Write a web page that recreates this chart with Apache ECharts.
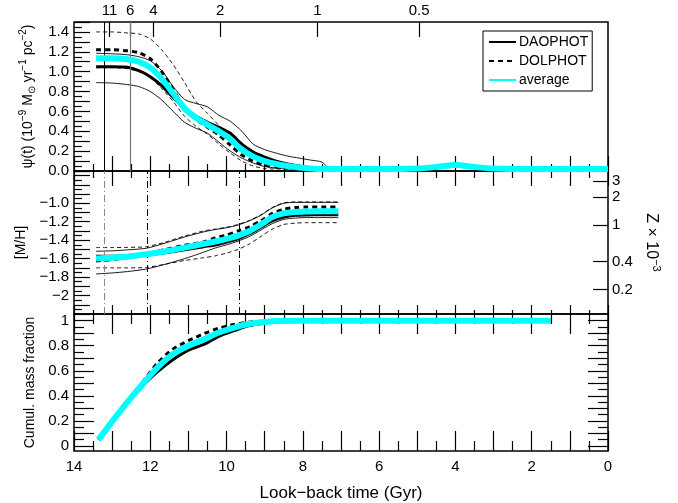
<!DOCTYPE html>
<html><head><meta charset="utf-8">
<script src="https://cdn.jsdelivr.net/npm/echarts@6/dist/echarts.min.js"></script>
<style>html,body{margin:0;padding:0;background:#fff}#c{width:678px;height:503px}</style>
</head><body><div id="c"></div>
<script>
// ---------------- data ----------------
// top panel: star formation rate psi(t)
const sfrTime   = [13.42,13.0,12.6,12.3,12.0,11.7,11.4,11.1,10.8,10.5,10.2,9.9,9.6,9.3,9.0,8.7,8.4,8.1,7.8,7.5,7.3,7.0,6.0,5.0,4.5,4.0,3.5,3.0,2.0,1.0,0.0];
const sfrDao    = [1.05,1.05,1.045,1.01,0.95,0.86,0.74,0.63,0.55,0.49,0.44,0.38,0.27,0.19,0.14,0.10,0.07,0.05,0.03,0.02,0.02,0.02,0.02,0.025,0.04,0.06,0.04,0.025,0.02,0.02,0.02];
const sfrDol    = [1.22,1.22,1.21,1.19,1.13,1.0,0.82,0.63,0.52,0.44,0.36,0.26,0.16,0.10,0.06,0.04,0.03,0.02,0.02,0.02,0.02,0.02,0.02,0.025,0.04,0.06,0.04,0.025,0.02,0.02,0.02];
const sfrAvg    = [1.135,1.135,1.125,1.10,1.04,0.93,0.78,0.63,0.535,0.465,0.40,0.32,0.215,0.145,0.10,0.07,0.05,0.035,0.025,0.02,0.02,0.02,0.02,0.025,0.04,0.06,0.04,0.025,0.02,0.02,0.02];
const sfrDaoHi  = [1.185,1.18,1.17,1.15,1.11,1.01,0.85,0.72,0.68,0.645,0.56,0.50,0.40,0.27,0.215,0.18,0.15,0.13,0.11,0.09,0.025,0.02,0.02,0.025,0.04,0.06,0.04,0.025,0.02,0.02,0.02];
const sfrDaoLo  = [0.89,0.885,0.87,0.85,0.80,0.715,0.60,0.49,0.43,0.38,0.29,0.20,0.13,0.08,0.045,0.03,0.02,0.02,0.02,0.02,0.02,0.02,0.02,0.025,0.04,0.06,0.04,0.025,0.02,0.02,0.02];
const sfrDolHi  = [1.40,1.40,1.39,1.38,1.33,1.22,1.07,0.89,0.70,0.58,0.46,0.36,0.26,0.17,0.10,0.05,0.03,0.02,0.02,0.02,0.02,0.02,0.02,0.025,0.04,0.06,0.04,0.025,0.02,0.02,0.02];
const sfrDolLo  = [1.04,1.04,1.03,1.0,0.94,0.83,0.70,0.55,0.45,0.37,0.27,0.18,0.10,0.05,0.025,0.02,0.02,0.02,0.02,0.02,0.02,0.02,0.02,0.025,0.04,0.06,0.04,0.025,0.02,0.02,0.02];

// middle panel: [M/H]
const mhTime   = [13.42,13.0,12.6,12.1,11.6,11.1,10.6,10.3,10.0,9.7,9.4,9.1,8.8,8.5,8.2,7.9,7.5,7.07];
const mhDao    = [-1.575,-1.575,-1.572,-1.56,-1.535,-1.505,-1.47,-1.453,-1.42,-1.385,-1.33,-1.26,-1.19,-1.15,-1.13,-1.126,-1.125,-1.125];
const mhDol    = [-1.625,-1.61,-1.59,-1.545,-1.50,-1.455,-1.42,-1.375,-1.345,-1.30,-1.255,-1.19,-1.11,-1.065,-1.045,-1.04,-1.04,-1.04];
const mhAvg    = [-1.598,-1.59,-1.58,-1.553,-1.52,-1.48,-1.44,-1.414,-1.385,-1.35,-1.30,-1.23,-1.15,-1.11,-1.095,-1.088,-1.085,-1.085];
const mhDaoHi  = [-1.52,-1.515,-1.505,-1.487,-1.43,-1.365,-1.31,-1.285,-1.265,-1.235,-1.19,-1.13,-1.05,-1.0,-0.99,-0.99,-0.99,-0.99];
const mhDaoLo  = [-1.766,-1.755,-1.74,-1.712,-1.66,-1.60,-1.53,-1.485,-1.45,-1.41,-1.36,-1.29,-1.22,-1.175,-1.16,-1.155,-1.155,-1.155];
const mhDolHi  = [-1.48,-1.48,-1.478,-1.47,-1.42,-1.355,-1.30,-1.28,-1.26,-1.23,-1.185,-1.125,-1.045,-0.995,-0.985,-0.985,-0.985,-0.985];
const mhDolLo  = [-1.70,-1.70,-1.70,-1.695,-1.66,-1.62,-1.59,-1.57,-1.54,-1.50,-1.44,-1.36,-1.28,-1.23,-1.215,-1.21,-1.21,-1.21];

// bottom panel: cumulative mass fraction
const cumTime = [13.36,13.0,12.6,12.2,11.8,11.4,11.0,10.6,10.2,9.8,9.4,9.0,8.6,8.0,7.0,5.0,3.0,1.5];
const cumDao  = [0.05,0.195,0.35,0.48,0.595,0.69,0.765,0.81,0.875,0.92,0.96,0.982,0.993,1.0,1.0,1.0,1.0,1.0];
const cumDol  = [0.05,0.195,0.35,0.51,0.665,0.775,0.84,0.895,0.94,0.97,0.988,0.996,1.0,1.0,1.0,1.0,1.0,1.0];
const cumAvg  = [0.05,0.195,0.35,0.495,0.63,0.735,0.80,0.85,0.905,0.945,0.975,0.99,0.997,1.0,1.0,1.0,1.0,1.0];

// vertical reference lines (look-back time, Gyr)
const sfrMarkTimes = [13.2, 12.53];
const mhMarkTimes  = [13.21, 12.08, 9.67];

// tick labels
const xTickLabels   = [0,2,4,6,8,10,12,14];
const zTickTimes    = [13.07,12.53,11.92,10.17,7.62,4.95];
const zTickLabels   = ['11','6','4','2','1','0.5'];
const sfrTickLabels = [0,0.2,0.4,0.6,0.8,1.0,1.2,1.4];
const mhTickVals    = [-1.0,-1.2,-1.4,-1.6,-1.8,-2.0];
const mhTickText    = ['−1.0','−1.2','−1.4','−1.6','−1.8','−2'];
const zMetVals      = [3,2,1,0.4,0.2];
const zMetText      = ['3','2','1','0.4','0.2'];
const cumTickLabels = [0,0.2,0.4,0.6,0.8,1];
const cumTickText   = ['0','0.2','0.4','0.6','0.8','1'];

// ---------------- chart ----------------
const FONT = '"Liberation Sans", Arial, Helvetica, sans-serif';
const ZSUN = 0.0172;
const zMetPos = zMetVals.map(z => Math.log10(z * 1e-3 / ZSUN));

const chart = echarts.init(document.getElementById('c'), null, {renderer: 'canvas'});

const G = [
  {left: 74, top: 22, width: 534, height: 149},
  {left: 74, top: 171, width: 534, height: 143},
  {left: 74, top: 314, width: 534, height: 143}
];
const tickStyle = {color: '#000', width: 1.2};
const labelStyle = {color: '#000', fontFamily: FONT, fontSize: 15};
const noLine = {show: false, onZero: false};

function xAx(gi, pos, len, minLen, extra) {
  return Object.assign({
    type: 'value', gridIndex: gi, position: pos, min: 0, max: 14, interval: 1, inverse: true,
    axisLine: noLine, splitLine: {show: false},
    axisTick: {show: true, inside: true, length: len, lineStyle: tickStyle},
    minorTick: {show: true, splitNumber: 2, length: minLen, lineStyle: tickStyle},
    axisLabel: {show: false}
  }, extra || {});
}
function valsFmt(vals, texts) {
  return function (v) {
    let best = -1, bd = 1e9;
    vals.forEach((x, i) => { const d = Math.abs(x - v); if (d < bd) { bd = d; best = i; } });
    return bd < 1e-6 ? texts[best] : '';
  };
}

const xAxes = [
  xAx(0, 'bottom', 15, 7),
  {
    type: 'value', gridIndex: 0, position: 'top', min: 0, max: 14, inverse: true,
    axisLine: noLine, splitLine: {show: false},
    axisTick: {show: true, inside: true, length: 15, customValues: zTickTimes, lineStyle: tickStyle},
    axisLabel: Object.assign({show: true, margin: 4, customValues: zTickTimes,
      formatter: valsFmt(zTickTimes, zTickLabels)}, labelStyle)
  },
  xAx(1, 'bottom', 9, 4),
  xAx(1, 'top', 15, 7),
  xAx(2, 'bottom', 20, 10, {
    axisLabel: Object.assign({show: true, margin: 8, customValues: xTickLabels,
      formatter: v => String(v)}, labelStyle),
    name: 'Look−back time (Gyr)', nameLocation: 'middle', nameGap: 34,
    nameTextStyle: {color: '#000', fontFamily: FONT, fontSize: 17}
  }),
  xAx(2, 'top', 20, 10)
];

const yAxes = [
  // 0: top panel left
  {
    type: 'value', gridIndex: 0, position: 'left', min: 0, max: 1.5, interval: 0.1,
    axisLine: noLine, splitLine: {show: false},
    axisTick: {show: true, inside: true, length: 16, lineStyle: tickStyle},
    minorTick: {show: true, splitNumber: 2, length: 8, lineStyle: tickStyle},
    axisLabel: Object.assign({show: true, margin: 5, customValues: sfrTickLabels,
      formatter: v => v.toFixed(1)}, labelStyle),
    name: '{a|ψ(t) (10}{sup|−9}{a| M}{sub|⊙}{a| yr}{sup|−1}{a| pc}{sup|−2}{a|)}',
    nameLocation: 'middle', nameRotate: 90, nameGap: 31,
    nameTextStyle: {rich: {
      a: {fontFamily: FONT, fontSize: 14, color: '#000', lineHeight: 19},
      sup: {fontFamily: FONT, fontSize: 10, color: '#000', verticalAlign: 'top', lineHeight: 19},
      sub: {fontFamily: FONT, fontSize: 10, color: '#000', verticalAlign: 'bottom', lineHeight: 19}
    }}
  },
  // 1: middle panel left
  {
    type: 'value', gridIndex: 1, position: 'left', min: -2.2, max: -0.65, interval: 0.1,
    axisLine: noLine, splitLine: {show: false},
    axisTick: {show: true, inside: true, length: 16, lineStyle: tickStyle},
    minorTick: {show: true, splitNumber: 2, length: 8, lineStyle: tickStyle},
    axisLabel: Object.assign({show: true, margin: 5, customValues: mhTickVals,
      formatter: valsFmt(mhTickVals, mhTickText)}, labelStyle),
    name: '[M/H]', nameLocation: 'middle', nameRotate: 90, nameGap: 39,
    nameTextStyle: {color: '#000', fontFamily: FONT, fontSize: 14}
  },
  // 2: middle panel right (Z)
  {
    type: 'value', gridIndex: 1, position: 'right', min: -2.2, max: -0.65,
    axisLine: noLine, splitLine: {show: false},
    axisTick: {show: true, inside: true, length: 15, customValues: zMetPos, lineStyle: tickStyle},
    axisLabel: Object.assign({show: true, margin: 4, customValues: zMetPos,
      formatter: valsFmt(zMetPos, zMetText)}, labelStyle),
    name: '{a|Z × 10}{sup|−3}', nameLocation: 'middle', nameRotate: -90, nameGap: 27,
    nameTextStyle: {rich: {
      a: {fontFamily: FONT, fontSize: 16, color: '#000', lineHeight: 20},
      sup: {fontFamily: FONT, fontSize: 11, color: '#000', verticalAlign: 'top', lineHeight: 20}
    }}
  }
];
// bottom panel axes: custom tick positions (range starts slightly below 0)
const cumMajor = [], cumMinor = [];
for (let i = 0; i <= 10; i++) cumMajor.push(+(i * 0.1).toFixed(2));
for (let i = 0; i < 10; i++) cumMinor.push(+(i * 0.1 + 0.05).toFixed(2));
function cumAx(pos, vals, len, withLabel) {
  const ax = {
    type: 'value', gridIndex: 2, position: pos, min: -0.04, max: 1.053,
    axisLine: noLine, splitLine: {show: false},
    axisTick: {show: true, inside: true, length: len, customValues: vals, lineStyle: tickStyle},
    axisLabel: {show: false}
  };
  if (withLabel) {
    ax.axisLabel = Object.assign({show: true, margin: 5, customValues: cumTickLabels,
      formatter: valsFmt(cumTickLabels, cumTickText)}, labelStyle);
    ax.name = 'Cumul. mass fraction';
    ax.nameLocation = 'middle'; ax.nameRotate = 90; ax.nameGap = 32;
    ax.nameTextStyle = {color: '#000', fontFamily: FONT, fontSize: 14};
  }
  return ax;
}
yAxes.push(cumAx('left', cumMajor, 20, true));   // 3
yAxes.push(cumAx('left', cumMinor, 10, false));  // 4
yAxes.push(cumAx('right', cumMajor, 20, false)); // 5
yAxes.push(cumAx('right', cumMinor, 10, false)); // 6

const CYAN = '#00FFFF';
const S = {
  thin:     {color: '#000', width: 0.9, type: 'solid'},
  thinDash: {color: '#000', width: 0.9, type: [4, 3]},
  dao:      {color: '#000', width: 3, type: 'solid'},
  dol:      {color: '#000', width: 3, type: [5, 4]},
  avg:      {color: CYAN, width: 6, type: 'solid', cap: 'butt'}
};
function line(name, xi, yi, times, vals, style, z) {
  return {
    type: 'line', name: name, xAxisIndex: xi, yAxisIndex: yi,
    data: times.map((t, i) => [t, vals[i]]),
    symbol: 'none', showSymbol: false, smooth: 0.25,
    lineStyle: Object.assign({join: 'round'}, style), itemStyle: {color: style.color}, z: z,
    emphasis: {disabled: true}, silent: true, animation: false
  };
}
function vMarks(times, colors) {
  return {
    silent: true, symbol: 'none', label: {show: false}, animation: false,
    data: times.map((t, i) => ({xAxis: t, lineStyle: colors[i]}))
  };
}

const series = [];
// top panel
const s0 = line('DAOPHOT range', 0, 0, sfrTime, sfrDaoHi, S.thin, 2);
s0.markLine = vMarks(sfrMarkTimes, [
  {color: '#000', width: 1, type: 'solid'},
  {color: '#777', width: 1.2, type: 'solid'}
]);
series.push(s0);
series.push(line('DAOPHOT range', 0, 0, sfrTime, sfrDaoLo, S.thin, 2));
series.push(line('DOLPHOT range', 0, 0, sfrTime, sfrDolHi, S.thinDash, 2));
series.push(line('DOLPHOT range', 0, 0, sfrTime, sfrDolLo, S.thinDash, 2));
series.push(line('DAOPHOT', 0, 0, sfrTime, sfrDao, S.dao, 3));
series.push(line('DOLPHOT', 0, 0, sfrTime, sfrDol, S.dol, 4));
series.push(line('average', 0, 0, sfrTime, sfrAvg, S.avg, 5));
// middle panel
const s1 = line('DAOPHOT range', 2, 1, mhTime, mhDaoHi, S.thin, 2);
s1.markLine = vMarks(mhMarkTimes, [
  {color: '#888', width: 1, type: [7, 3, 1, 3]},
  {color: '#000', width: 1, type: [7, 3, 1, 3]},
  {color: '#000', width: 1, type: [7, 3, 1, 3]}
]);
series.push(s1);
series.push(line('DAOPHOT range', 2, 1, mhTime, mhDaoLo, S.thin, 2));
series.push(line('DOLPHOT range', 2, 1, mhTime, mhDolHi, S.thinDash, 2));
series.push(line('DOLPHOT range', 2, 1, mhTime, mhDolLo, S.thinDash, 2));
series.push(line('DAOPHOT', 2, 1, mhTime, mhDao, S.dao, 3));
series.push(line('DOLPHOT', 2, 1, mhTime, mhDol, S.dol, 4));
series.push(line('average', 2, 1, mhTime, mhAvg, S.avg, 5));
// bottom panel
series.push(line('DAOPHOT', 4, 3, cumTime, cumDao, S.dao, 3));
series.push(line('DOLPHOT', 4, 3, cumTime, cumDol, S.dol, 4));
series.push(line('average', 4, 3, cumTime, cumAvg, S.avg, 5));

chart.setOption({
  animation: false,
  backgroundColor: '#fff',
  textStyle: {fontFamily: FONT, color: '#000'},
  grid: G.map(g => Object.assign({show: true, borderColor: '#000', borderWidth: 1.5,
    backgroundColor: 'transparent', containLabel: false}, g)),
  xAxis: xAxes,
  yAxis: yAxes,
  legend: {
    data: ['DAOPHOT', 'DOLPHOT', 'average'],
    orient: 'vertical', left: 483, top: 31,
    itemWidth: 27, itemHeight: 13, itemGap: 5,
    padding: [4, 4, 4, 5],
    borderColor: '#000', borderWidth: 1,
    backgroundColor: '#fff',
    selectedMode: false,
    itemStyle: {opacity: 0, borderWidth: 0},
    textStyle: {fontFamily: FONT, fontSize: 14, color: '#000', padding: [0, 0, 0, -2]}
  },
  series: series
});
</script>
</body></html>
